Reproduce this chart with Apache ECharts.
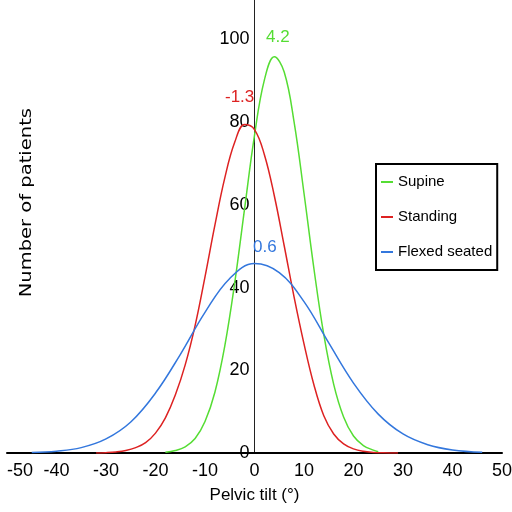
<!DOCTYPE html>
<html>
<head>
<meta charset="utf-8">
<script src="https://cdn.jsdelivr.net/npm/echarts@6/dist/echarts.min.js"></script>
<style>
  html, body { margin: 0; padding: 0; background: #fff; }
  #chart { width: 512px; height: 512px; }
</style>
</head>
<body>
<div id="chart"></div>
<script>
// 数据：骨盆倾斜角 vs 患者数
const supineTilt = [-18, -16, -14, -12, -10, -8, -6, -4, -2, 0, 2, 4, 6, 8, 10, 12, 14, 16, 18, 20, 22, 24, 25]
const supineCount = [0.2, 0.6, 1.5, 3.5, 7.6, 14.7, 25.9, 41.1, 59.1, 76.8, 90.2, 95.8, 92.1, 80.0, 62.8, 44.6, 28.6, 16.6, 8.7, 4.1, 1.8, 0.7, 0.3]

const standingTilt = [-32, -30, -28, -26, -24, -22, -20, -18, -16, -14, -12, -10, -8, -6, -4, -2, 0, 2, 4, 6, 8, 10, 12, 14, 16, 18, 20, 22, 24, 26, 29]
const standingCount = [0, 0.08, 0.25, 0.6, 1.3, 2.5, 4.8, 8.5, 14.0, 21.3, 30.8, 42.6, 55.1, 66.5, 75.1, 79.4, 78.2, 72.1, 62.2, 50.1, 37.7, 26.4, 16.5, 9.0, 4.6, 2.2, 1.0, 0.4, 0.15, 0.05, 0]

const seatedTilt = [-45, -40, -35, -30, -25, -20, -15, -10, -5, 0, 5, 10, 15, 20, 25, 30, 35, 40, 46]
const seatedCount = [0.15, 0.45, 1.3, 3.4, 7.5, 14.5, 23.8, 34.0, 42.2, 45.8, 43.6, 36.6, 26.6, 16.9, 9.4, 4.6, 2.0, 0.74, 0.19]

const seriesNames = ['Supine', 'Standing', 'Flexed seated']
const meanLabels = ['4.2', '-1.3', '0.6']
const xTicks = [-50, 50, 10]
const yTicks = [0, 110, 20]

const colors = ['#55dd33', '#dd2222', '#3377dd']
const font = "'Liberation Sans', Arial, sans-serif"

const zip = (xs, ys) => xs.map((x, i) => [x, ys[i]])

const chart = echarts.init(document.getElementById('chart'))

// 网格尺寸，y 轴放到 x=0 处
const gridLeft = 7
const gridRight = 10
const plotWidth = 512 - gridLeft - gridRight
const yAxisShift = -plotWidth * (0 - xTicks[0]) / (xTicks[1] - xTicks[0])

const makeSeries = (name, data, color, label, coord) => ({
  name: name,
  type: 'line',
  data: data,
  smooth: 0.4,
  showSymbol: false,
  symbol: 'none',
  lineStyle: { color: color, width: 1.5 },
  itemStyle: { color: color },
  markPoint: {
    symbol: 'circle',
    symbolSize: 0,
    silent: true,
    label: {
      show: true,
      position: 'inside',
      formatter: label,
      color: color,
      fontFamily: font,
      fontSize: 17
    },
    data: [{ coord: coord }]
  }
})

const option = {
  animation: false,
  color: colors,
  grid: { left: gridLeft, right: gridRight, top: -2, bottom: 59, outerBoundsMode: 'none' },
  legend: {
    orient: 'vertical',
    left: 376,
    top: 164,
    data: seriesNames,
    icon: 'rect',
    itemWidth: 12,
    itemHeight: 2,
    itemGap: 15,
    padding: [8, 5, 8, 5],
    borderColor: '#000',
    borderWidth: 2,
    backgroundColor: '#fff',
    textStyle: { color: '#000', fontFamily: font, fontSize: 15, lineHeight: 20 }
  },
  xAxis: {
    type: 'value',
    min: xTicks[0],
    max: xTicks[1],
    interval: xTicks[2],
    name: 'Pelvic tilt (°)',
    nameLocation: 'middle',
    nameGap: 34,
    nameTextStyle: { color: '#000', fontFamily: font, fontSize: 17 },
    splitLine: { show: false },
    axisTick: { show: false },
    axisLine: { onZero: false, lineStyle: { color: '#000', width: 2 } },
    axisLabel: { color: '#000', fontFamily: font, fontSize: 18, margin: 9, alignMinLabel: 'left' }
  },
  yAxis: {
    type: 'value',
    min: yTicks[0],
    max: yTicks[1],
    interval: yTicks[2],
    offset: yAxisShift,
    splitLine: { show: false },
    axisTick: { show: false },
    axisLine: { show: true, onZero: false, lineStyle: { color: '#222', width: 1 } },
    axisLabel: { color: '#000', fontFamily: font, fontSize: 18, margin: 5, showMaxLabel: false }
  },
  graphic: [{
    type: 'text',
    left: 19,
    top: 108,
    rotation: Math.PI / 2,
    scaleX: 1.22,
    style: {
      text: 'Number of patients',
      fill: '#000',
      font: '16px "DejaVu Sans", sans-serif'
    }
  }],
  series: [
    makeSeries(seriesNames[0], zip(supineTilt, supineCount), colors[0], meanLabels[0], [4.7, 100.4]),
    makeSeries(seriesNames[1], zip(standingTilt, standingCount), colors[1], meanLabels[1], [-3.0, 86.1]),
    makeSeries(seriesNames[2], zip(seatedTilt, seatedCount), colors[2], meanLabels[2], [2.1, 49.8])
  ]
}

chart.setOption(option)
</script>
</body>
</html>
